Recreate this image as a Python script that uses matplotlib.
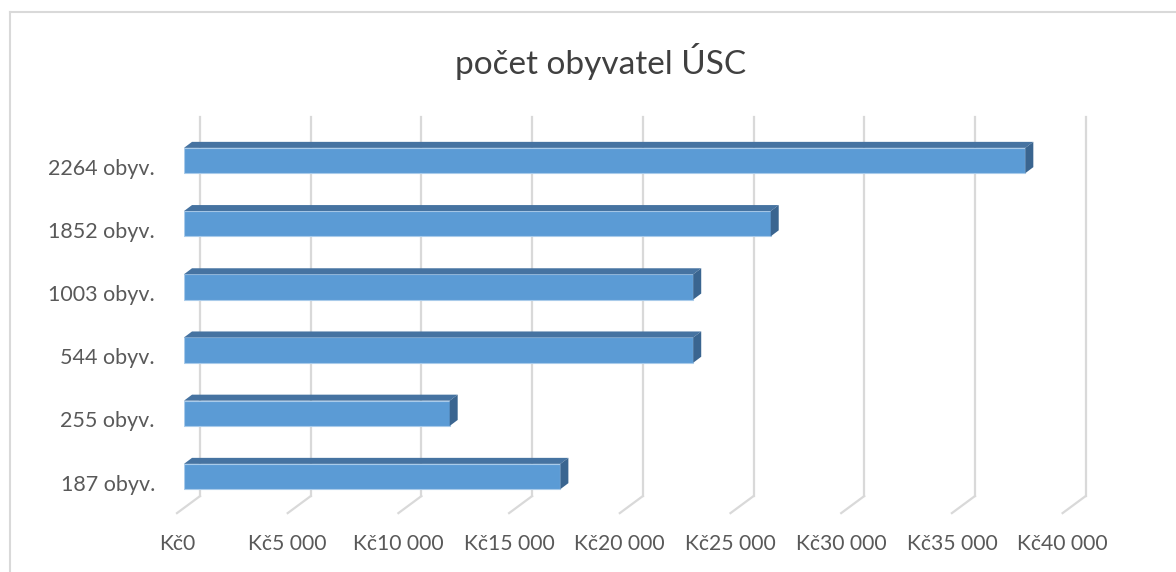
import matplotlib
matplotlib.use("Agg")
import matplotlib.pyplot as plt
from matplotlib.patches import Polygon
from matplotlib.lines import Line2D

# ---- data ----
categories = ["187 obyv.", "255 obyv.", "544 obyv.", "1003 obyv.", "1852 obyv.", "2264 obyv."]
values = [17000, 12000, 23000, 23000, 26500, 38000]
xticks = [0, 5000, 10000, 15000, 20000, 25000, 30000, 35000, 40000]
xtick_labels = ["Kč0", "Kč5 000", "Kč10 000", "Kč15 000", "Kč20 000",
                "Kč25 000", "Kč30 000", "Kč35 000", "Kč40 000"]
title = "počet obyvatel ÚSC"

plt.rcParams['font.family'] = ['Lato', 'DejaVu Sans']

W, H, DPI = 1176, 572, 100
fig = plt.figure(figsize=(W / DPI, H / DPI), dpi=DPI)

# axes placement (pixels)
ax_left, ax_right = 184, 184 + 885.6
ax_top, ax_bottom = 128.9, 508.1
ax = fig.add_axes([ax_left / W, 1 - ax_bottom / H,
                   (ax_right - ax_left) / W, (ax_bottom - ax_top) / H])
xmin, xmax = 0, 40000
ymin, ymax = -0.5, 5.5
ax.set_xlim(xmin, xmax)
ax.set_ylim(ymin, ymax)
ax.axis('off')

sx = (ax_right - ax_left) / (xmax - xmin)   # px per data x
sy = (ax_bottom - ax_top) / (ymax - ymin)   # px per data y


def px2d(dx_px, dy_px):
    return dx_px / sx, dy_px / sy


# 3D depth offsets (px, display orientation: y up)
wall_dx, wall_dy = px2d(16, 12)
front_dx, front_dy = px2d(-7, -5)
bar_dx, bar_dy = px2d(8, 6)

grid_col = '#D9D9D9'
for xv in xticks:
    ax.add_line(Line2D([xv + wall_dx, xv + wall_dx], [ymin + wall_dy, ymax + wall_dy],
                       color=grid_col, lw=1.6, zorder=1, clip_on=False))
    ax.add_line(Line2D([xv + wall_dx, xv + front_dx], [ymin + wall_dy, ymin + front_dy],
                       color=grid_col, lw=1.6, zorder=1, clip_on=False))

h = 0.4
front_col = '#5B9BD5'
top_col = '#4673A1'
side_col = '#3A6590'
for i, v in enumerate(values):
    y0, y1 = i - h / 2, i + h / 2
    ax.barh(i, v, height=h, left=0, color=front_col, edgecolor='#A9CBEA',
            linewidth=0.8, zorder=3)
    top = Polygon([(0, y1), (v, y1), (v + bar_dx, y1 + bar_dy), (bar_dx, y1 + bar_dy)],
                  closed=True, facecolor=top_col, edgecolor='none', zorder=3, clip_on=False)
    side = Polygon([(v, y0), (v, y1), (v + bar_dx, y1 + bar_dy), (v + bar_dx, y0 + bar_dy)],
                   closed=True, facecolor=side_col, edgecolor='none', zorder=3, clip_on=False)
    ax.add_patch(top)
    ax.add_patch(side)

# category labels
lab_dx, lab_dy = px2d(-29, -8)
for i, c in enumerate(categories):
    ax.text(0 + lab_dx, i + lab_dy, c, ha='right', va='center', fontsize=15.5,
            color='#595959', clip_on=False)

# value tick labels
tl_dx, tl_dy = px2d(-7, -36)
for xv, lab in zip(xticks, xtick_labels):
    ax.text(xv + tl_dx, ymin + tl_dy, lab, ha='center', va='center', fontsize=15.2,
            color='#595959', clip_on=False)

# title
fig.text(601 / W, 1 - 61 / H, title, ha='center', va='center', fontsize=24, color='#404040')

# chart border
bcol = '#D9D9D9'
fig.add_artist(Line2D([10 / W, 10 / W], [0, 1 - 12 / H], transform=fig.transFigure,
                      color=bcol, lw=1.5))
fig.add_artist(Line2D([10 / W, 1], [1 - 12 / H, 1 - 12 / H], transform=fig.transFigure,
                      color=bcol, lw=1.5))

fig.savefig('out.png', dpi=DPI, facecolor='white')
